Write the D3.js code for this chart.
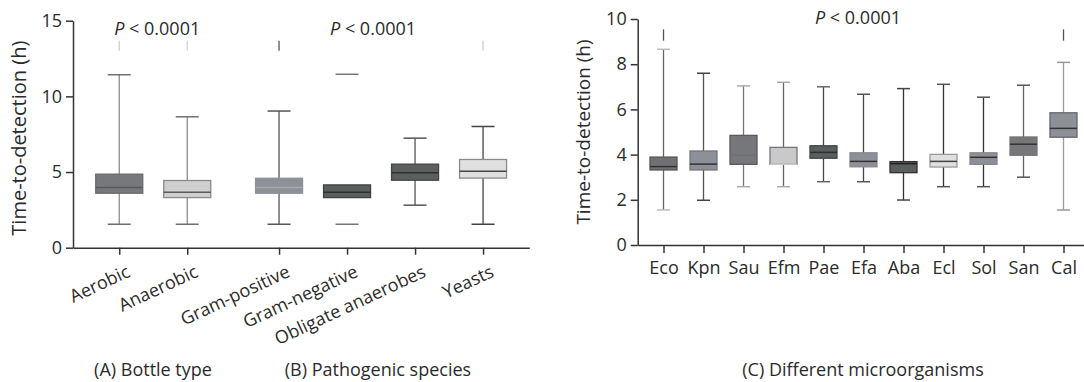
<!DOCTYPE html>
<html>
<head>
<meta charset="utf-8">
<script src="https://cdn.jsdelivr.net/npm/d3@7"></script>
<style>
  html, body { margin: 0; padding: 0; background: #fff; }
  svg { display: block; font-family: "Open Sans", sans-serif; }
  .axis path, .axis line { stroke: #333; stroke-width: 1.5px; }
  .axis text { font-size: 18px; fill: #2b2b2b; font-family: "Open Sans", sans-serif; }
</style>
</head>
<body>
<div id="chart"></div>
<script>
// panels A + B: bottle type / pathogenic species
const catsAB = ['Aerobic', 'Anaerobic', 'Gram-positive', 'Gram-negative', 'Obligate anaerobes', 'Yeasts'];
const minAB = [1.55, 1.55, 1.55, 1.55, 2.81, 1.55];
const q1AB  = [3.60, 3.31, 3.60, 3.31, 4.46, 4.60];
const medAB = [3.97, 3.67, 3.97, 3.67, 4.95, 5.06];
const q3AB  = [4.86, 4.44, 4.59, 4.15, 5.52, 5.83];
const maxAB = [11.43, 8.65, 9.03, 11.46, 7.24, 8.01];
// short marks above the plot (outliers off scale), null = none
const outAB = [[13.02, 13.68], [13.02, 13.68], [13.02, 13.68], null, null, [13.02, 13.68]];
const ticksAB = [0, 5, 10, 15];

// panel C: different microorganisms
const catsC = ['Eco', 'Kpn', 'Sau', 'Efm', 'Pae', 'Efa', 'Aba', 'Ecl', 'Sol', 'San', 'Cal'];
const minC = [1.55, 1.98, 2.58, 2.58, 2.80, 2.80, 1.99, 2.58, 2.58, 3.00, 1.55];
const q1C  = [3.32, 3.32, 3.57, 3.57, 3.84, 3.46, 3.20, 3.45, 3.57, 3.97, 4.77];
const medC = [3.47, 3.58, 3.97, 3.57, 4.10, 3.70, 3.60, 3.70, 3.88, 4.46, 5.16];
const q3C  = [3.89, 4.16, 4.85, 4.32, 4.39, 4.08, 3.69, 4.01, 4.08, 4.78, 5.85];
const maxC = [8.66, 7.60, 7.04, 7.20, 7.00, 6.67, 6.92, 7.11, 6.54, 7.07, 8.08];
const outC = [[9.04, 9.54], null, null, null, null, null, null, null, null, null, [9.04, 9.54]];
const ticksC = [0, 2, 4, 6, 8, 10];

// box styles: fill, border, median, whisker, caps, outlier mark
const styleAB = [
  { fill: '#77787b', stroke: '#6a6b6e', med: '#58595b', wh: '#8c8c8c', cap: '#707070', out: '#cfcfcf' },
  { fill: '#cfcfd0', stroke: '#8a8a8a', med: '#5a5a5a', wh: '#8c8c8c', cap: '#707070', out: '#d4d4d4' },
  { fill: '#8e9099', stroke: '#8e9099', med: '#a7a9b0', wh: '#555', cap: '#555', out: '#555' },
  { fill: '#595e5e', stroke: '#444', med: '#2e3030', wh: 'none', cap: '#777', out: 'none' },
  { fill: '#5b5f5f', stroke: '#444', med: '#2f3131', wh: '#555', cap: '#555', out: 'none' },
  { fill: '#e0e0e0', stroke: '#8a8a8a', med: '#444', wh: '#444', cap: '#444', out: '#cfcfcf' }
];
const styleC = [
  { fill: '#6f7174', stroke: '#555', med: '#333', wh: '#666', cap: '#bbb', out: '#555' },
  { fill: '#8e9099', stroke: '#777', med: '#333', wh: '#555', cap: '#444', out: 'none' },
  { fill: '#75777a', stroke: '#5a5a5a', med: '#6d6f72', wh: '#777', cap: '#aaa', out: 'none' },
  { fill: '#c9c9cb', stroke: '#777', med: '#c9c9cb', wh: '#666', cap: '#aaa', out: 'none' },
  { fill: '#5a5e5e', stroke: '#444', med: '#2e3030', wh: '#444', cap: '#666', out: 'none' },
  { fill: '#8e9099', stroke: '#888', med: '#333', wh: '#444', cap: '#555', out: 'none' },
  { fill: '#5a5e5e', stroke: '#333', med: '#222', wh: '#333', cap: '#444', out: 'none' },
  { fill: '#e0e0e0', stroke: '#999', med: '#444', wh: '#333', cap: '#555', out: 'none' },
  { fill: '#8e9099', stroke: '#888', med: '#333', wh: '#333', cap: '#555', out: 'none' },
  { fill: '#75777a', stroke: '#777', med: '#333', wh: '#666', cap: '#555', out: 'none' },
  { fill: '#8e9099', stroke: '#666', med: '#333', wh: '#9a9a9a', cap: '#999', out: '#555' }
];

const W = 1084, H = 382;
const svg = d3.select('#chart').append('svg')
  .attr('width', W).attr('height', H);
svg.append('rect').attr('width', W).attr('height', H).attr('fill', '#fff');

function drawBoxes(g, x, y, n, mins, q1, med, q3, max, outs, styles, boxW, capW) {
  for (let i = 0; i < n; i++) {
    const cx = x(i), st = styles[i];
    if (outs[i]) {
      g.append('line')
        .attr('x1', cx).attr('x2', cx)
        .attr('y1', y(outs[i][0])).attr('y2', y(outs[i][1]))
        .attr('stroke', st.out).attr('stroke-width', 1.3);
    }
    if (st.wh !== 'none') {
      g.append('line')
        .attr('x1', cx).attr('x2', cx)
        .attr('y1', y(max[i])).attr('y2', y(mins[i]))
        .attr('stroke', st.wh).attr('stroke-width', 1.3);
    }
    [max[i], mins[i]].forEach(v => {
      g.append('line')
        .attr('x1', cx - capW / 2).attr('x2', cx + capW / 2)
        .attr('y1', y(v)).attr('y2', y(v))
        .attr('stroke', st.cap).attr('stroke-width', 1.5);
    });
    g.append('rect')
      .attr('x', cx - boxW / 2).attr('width', boxW)
      .attr('y', y(q3[i])).attr('height', y(q1[i]) - y(q3[i]))
      .attr('fill', st.fill).attr('stroke', st.stroke).attr('stroke-width', 1.3);
    g.append('line')
      .attr('x1', cx - boxW / 2).attr('x2', cx + boxW / 2)
      .attr('y1', y(med[i])).attr('y2', y(med[i]))
      .attr('stroke', st.med).attr('stroke-width', 1.5);
  }
}

function pLabel(x, y, anchor) {
  const t = svg.append('text')
    .attr('x', x).attr('y', y)
    .attr('text-anchor', anchor)
    .attr('font-size', 18).attr('fill', '#2b2b2b');
  t.append('tspan').attr('font-style', 'italic').text('P');
  t.append('tspan').text(' < 0.0001');
}

// ---------- left panel (A + B) ----------
const yAB = d3.scaleLinear().domain([0, 15]).range([247.7, 20.7]);
// index with a gap between the two groups
const posAB = i => i + (i >= 2 ? 0.35 : 0);
const xAB = d3.scaleLinear().domain([-0.68, 6.03]).range([73, 529.3]);
const xiAB = i => xAB(posAB(i));

svg.append('g').attr('class', 'axis')
  .attr('transform', 'translate(73,0)')
  .call(d3.axisLeft(yAB).tickValues(ticksAB).tickSize(7).tickSizeOuter(0).tickPadding(4));

svg.append('g').attr('class', 'axis')
  .attr('transform', 'translate(0,247.7)')
  .call(d3.axisBottom(xAB).tickValues(catsAB.map((d, i) => posAB(i)))
    .tickSize(7).tickSizeOuter(0).tickFormat(''));

svg.selectAll('.labAB')
  .data(catsAB)
  .enter()
  .append('text')
  .attr('class', 'labAB')
  .attr('transform', (d, i) => `translate(${xiAB(i) + 12},276) rotate(-25)`)
  .attr('text-anchor', 'end')
  .attr('font-size', 18).attr('fill', '#2b2b2b')
  .text(d => d);

drawBoxes(svg.append('g'), xiAB, yAB, catsAB.length, minAB, q1AB, medAB, q3AB, maxAB, outAB, styleAB, 47, 23);

svg.append('text')
  .attr('transform', `translate(26,${(20.7 + 247.7) / 2 + 4}) rotate(-90)`)
  .attr('text-anchor', 'middle')
  .attr('font-size', 20).attr('fill', '#2b2b2b')
  .text('Time-to-detection (h)');

pLabel((xiAB(0) + xiAB(1)) / 2 + 4, 35, 'middle');
pLabel((xiAB(2) + xiAB(5)) / 2 - 8, 35, 'middle');

svg.append('text').attr('x', 153).attr('y', 376)
  .attr('text-anchor', 'middle').attr('font-size', 18).attr('fill', '#2b2b2b')
  .text('(A) Bottle type');
svg.append('text').attr('x', 378).attr('y', 376)
  .attr('text-anchor', 'middle').attr('font-size', 18).attr('fill', '#2b2b2b')
  .text('(B) Pathogenic species');

// ---------- right panel (C) ----------
const yC = d3.scaleLinear().domain([0, 10]).range([245, 19]);
const xC = d3.scaleLinear().domain([-0.645, 10.5]).range([637.7, 637.7 + 40 * 11.145]);
const xiC = i => xC(i);

svg.append('g').attr('class', 'axis')
  .attr('transform', 'translate(637.7,0)')
  .call(d3.axisLeft(yC).tickValues(ticksC).tickSize(7).tickSizeOuter(0).tickPadding(4));

svg.append('g').attr('class', 'axis')
  .attr('transform', 'translate(0,245)')
  .call(d3.axisBottom(xC).tickValues(catsC.map((d, i) => i))
    .tickSize(8).tickSizeOuter(0).tickPadding(8)
    .tickFormat(i => catsC[i]));

drawBoxes(svg.append('g'), xiC, yC, catsC.length, minC, q1C, medC, q3C, maxC, outC, styleC, 27, 13);

svg.append('text')
  .attr('transform', `translate(590,${(19 + 245) / 2}) rotate(-90)`)
  .attr('text-anchor', 'middle')
  .attr('font-size', 19).attr('fill', '#2b2b2b')
  .text('Time-to-detection (h)');

pLabel(815, 24, 'start');

svg.append('text').attr('x', 863).attr('y', 376)
  .attr('text-anchor', 'middle').attr('font-size', 18).attr('fill', '#2b2b2b')
  .text('(C) Different microorganisms');
</script>
</body>
</html>
